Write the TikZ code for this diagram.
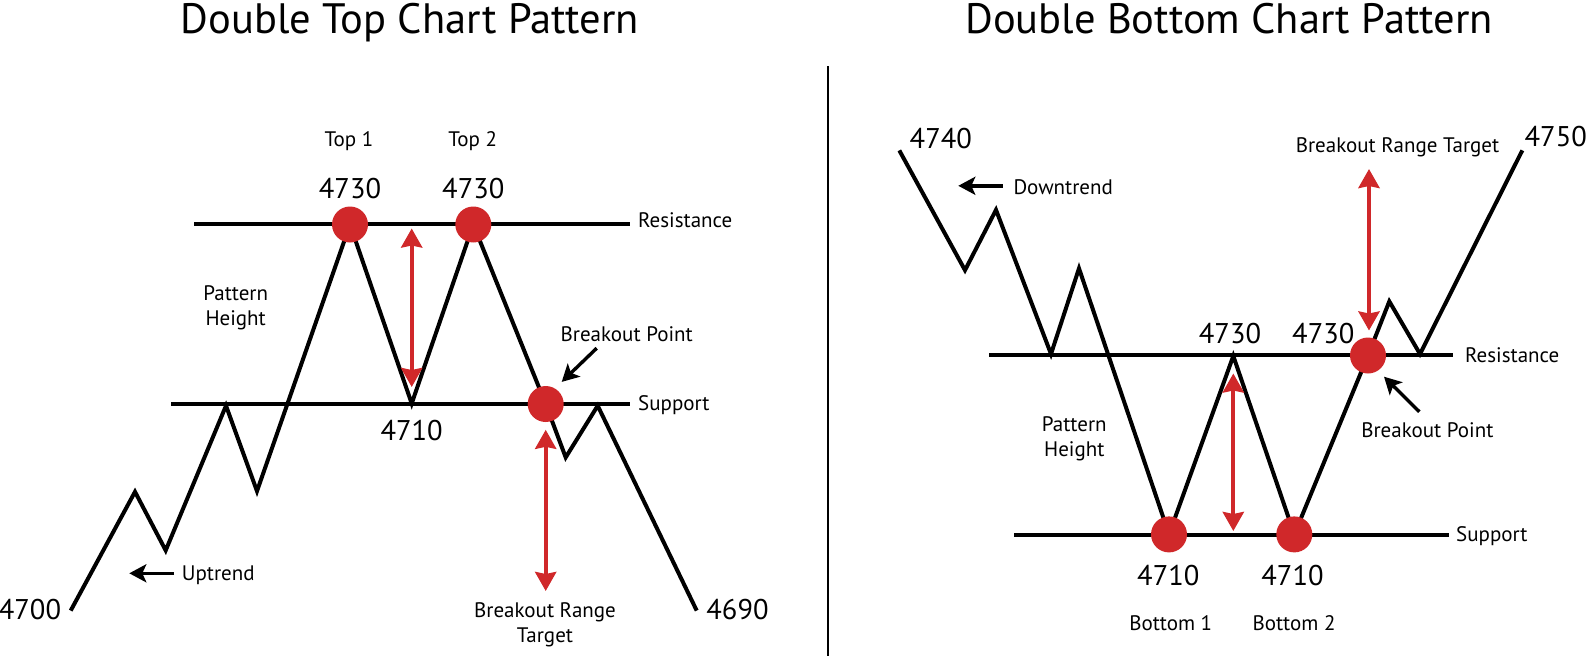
\documentclass[tikz,border=0pt]{standalone}
\usepackage{fontspec}
\setmainfont{PT Sans}
\usetikzlibrary{arrows.meta}
\definecolor{dotred}{RGB}{208,40,42}
\begin{document}
\begin{tikzpicture}[x=1pt,y=-1pt,
  price/.style={line width=4pt, line join=miter},
  level/.style={line width=3.4pt},
  dot/.style={circle, fill=dotred, minimum size=36pt, inner sep=0pt},
  hgt/.style={draw=dotred, line width=4pt, {Stealth[inset=2pt,length=19pt,width=21pt]}-{Stealth[inset=2pt,length=19pt,width=21pt]}},
  ptr/.style={line width=3.4pt, -{Stealth[inset=4pt,length=17pt,width=18pt]}},
  lbl/.style={font=\fontsize{21}{25}\selectfont, inner sep=0pt, anchor=base},
  num/.style={font=\fontsize{28.5}{34}\selectfont, inner sep=0pt, anchor=base},
  ttl/.style={font=\fontsize{42.5}{50}\selectfont, inner sep=0pt, anchor=base},
]
\fill[white] (0,0) rectangle (1588,656);
\useasboundingbox (0,0) rectangle (1588,656);

% ---------------- titles and divider
\node[ttl] (t1) at (410,33.5) {Double Top Chart Pattern};
\node[ttl] (t2) at (1229,33.5) {Double Bottom Chart Pattern};
\coordinate (dvA) at (828.4,66);
\coordinate (dvB) at (828.4,656);
\draw[line width=2pt] (dvA) -- (dvB);

% ================= DOUBLE TOP =================
\coordinate (rL1) at (194,224);   \coordinate (rL2) at (630,224);
\coordinate (sL1) at (171,404);   \coordinate (sL2) at (630,404);
\draw[level] (rL1) -- (rL2);
\draw[level] (sL1) -- (sL2);

\coordinate (a0) at (70.7,610.6);
\coordinate (a1) at (135,491.8);
\coordinate (a2) at (165.7,550.4);
\coordinate (a3) at (226,405.7);
\coordinate (a4) at (257,491.1);
\coordinate (a5) at (350,224.5);
\coordinate (a6) at (411.7,403.5);
\coordinate (a7) at (473.3,224.5);
\coordinate (a8) at (545.7,404);
\coordinate (a9) at (565.7,457.4);
\coordinate (a10) at (597.7,405.7);
\coordinate (a11) at (696.7,610.6);
\draw[price] (a0) -- (a1) -- (a2) -- (a3) -- (a4) -- (a5) -- (a6) -- (a7) -- (a8) -- (a9) -- (a10) -- (a11);

\node[dot] (top1) at (a5) {};
\node[dot] (top2) at (a7) {};
\node[dot] (bkL) at (a8) {};

% pattern height & target arrows
\coordinate (hL1) at (411.7,228.5); \coordinate (hL2) at (411.7,387);
\draw[hgt] (hL1) -- (hL2);
\coordinate (gL1) at (545.7,429.8); \coordinate (gL2) at (545.7,591);
\draw[hgt] (gL1) -- (gL2);

% black pointers
\coordinate (upA) at (174,573.3); \coordinate (upB) at (129.3,573.3);
\draw[ptr] (upA) -- (upB);
\coordinate (bpA) at (596.7,348.2); \coordinate (bpB) at (561.7,381.9);
\draw[ptr] (bpA) -- (bpB);

% labels
\node[lbl] (lt1) at (349,146) {Top 1};
\node[lbl] (lt2) at (472.7,146) {Top 2};
\node[num] (n1) at (350,198.3) {4730};
\node[num] (n2) at (473.3,198.3) {4730};
\node[lbl] (ph1) at (235.7,300) {Pattern};
\node[lbl] (ph2) at (235.7,325) {Height};
\node[num] (n3) at (411.7,440) {4710};
\node[num] (n4) at (30,619.5) {4700};
\node[num] (n5) at (737.5,619.5) {4690};
\node[lbl, anchor=base west] (lup) at (181.7,580.7) {Uptrend};
\node[lbl, anchor=base west] (lres) at (638,227) {Resistance};
\node[lbl, anchor=base west] (lsup) at (638,410) {Support};
\node[lbl] (lbp) at (626.7,341) {Breakout Point};
\node[lbl] (lbr1) at (545,617.7) {Breakout Range};
\node[lbl] (lbr2) at (545,642.6) {Target};

% ================= DOUBLE BOTTOM =================
\coordinate (rR1) at (989,355);   \coordinate (rR2) at (1453.3,355);
\coordinate (sR1) at (1014,535);  \coordinate (sR2) at (1449.3,535);
\draw[level] (rR1) -- (rR2);
\draw[level] (sR1) -- (sR2);

\coordinate (b0) at (899.3,150.4);
\coordinate (b1) at (965,270.2);
\coordinate (b2) at (996,209.9);
\coordinate (b3) at (1051,354);
\coordinate (b4) at (1079,268.4);
\coordinate (b5) at (1169,534.4);
\coordinate (b6) at (1233.3,356);
\coordinate (b7) at (1294.3,534.4);
\coordinate (b8) at (1368,355.5);
\coordinate (b9) at (1389.3,301.4);
\coordinate (b10) at (1420,354);
\coordinate (b11) at (1522.3,150.4);
\draw[price] (b0) -- (b1) -- (b2) -- (b3) -- (b4) -- (b5) -- (b6) -- (b7) -- (b8) -- (b9) -- (b10) -- (b11);

\node[dot] (bot1) at (b5) {};
\node[dot] (bot2) at (b7) {};
\node[dot] (bkR) at (b8) {};

\coordinate (hR1) at (1233.3,373.5); \coordinate (hR2) at (1233.3,531);
\draw[hgt] (hR1) -- (hR2);
\coordinate (gR1) at (1369,169); \coordinate (gR2) at (1369,330.5);
\draw[hgt] (gR1) -- (gR2);

\coordinate (dnA) at (1002.7,185.8); \coordinate (dnB) at (958.3,185.8);
\draw[ptr] (dnA) -- (dnB);
\coordinate (bqA) at (1419.3,411.7); \coordinate (bqB) at (1384,376.7);
\draw[ptr] (bqA) -- (bqB);

\node[num] (m1) at (940.8,148) {4740};
\node[lbl, anchor=base west] (ldn) at (1013.3,194) {Downtrend};
\node[lbl] (qh1) at (1074.3,431.6) {Pattern};
\node[lbl] (qh2) at (1074.3,456.4) {Height};
\node[num] (m2) at (1230,343.3) {4730};
\node[num] (m3) at (1323.3,343.3) {4730};
\node[num] (m4) at (1168.3,585.8) {4710};
\node[num] (m5) at (1292.5,585.8) {4710};
\node[lbl] (lb1) at (1170.7,630) {Bottom 1};
\node[lbl] (lb2) at (1294,630) {Bottom 2};
\node[lbl] (lrt) at (1397.5,152.5) {Breakout Range Target};
\node[num, anchor=base east] (m6) at (1587,146) {4750};
\node[lbl, anchor=base west] (rres) at (1465,362.4) {Resistance};
\node[lbl, anchor=base west] (rsup) at (1456,541.5) {Support};
\node[lbl] (rbp) at (1427.3,437) {Breakout Point};
\end{tikzpicture}
\end{document}
